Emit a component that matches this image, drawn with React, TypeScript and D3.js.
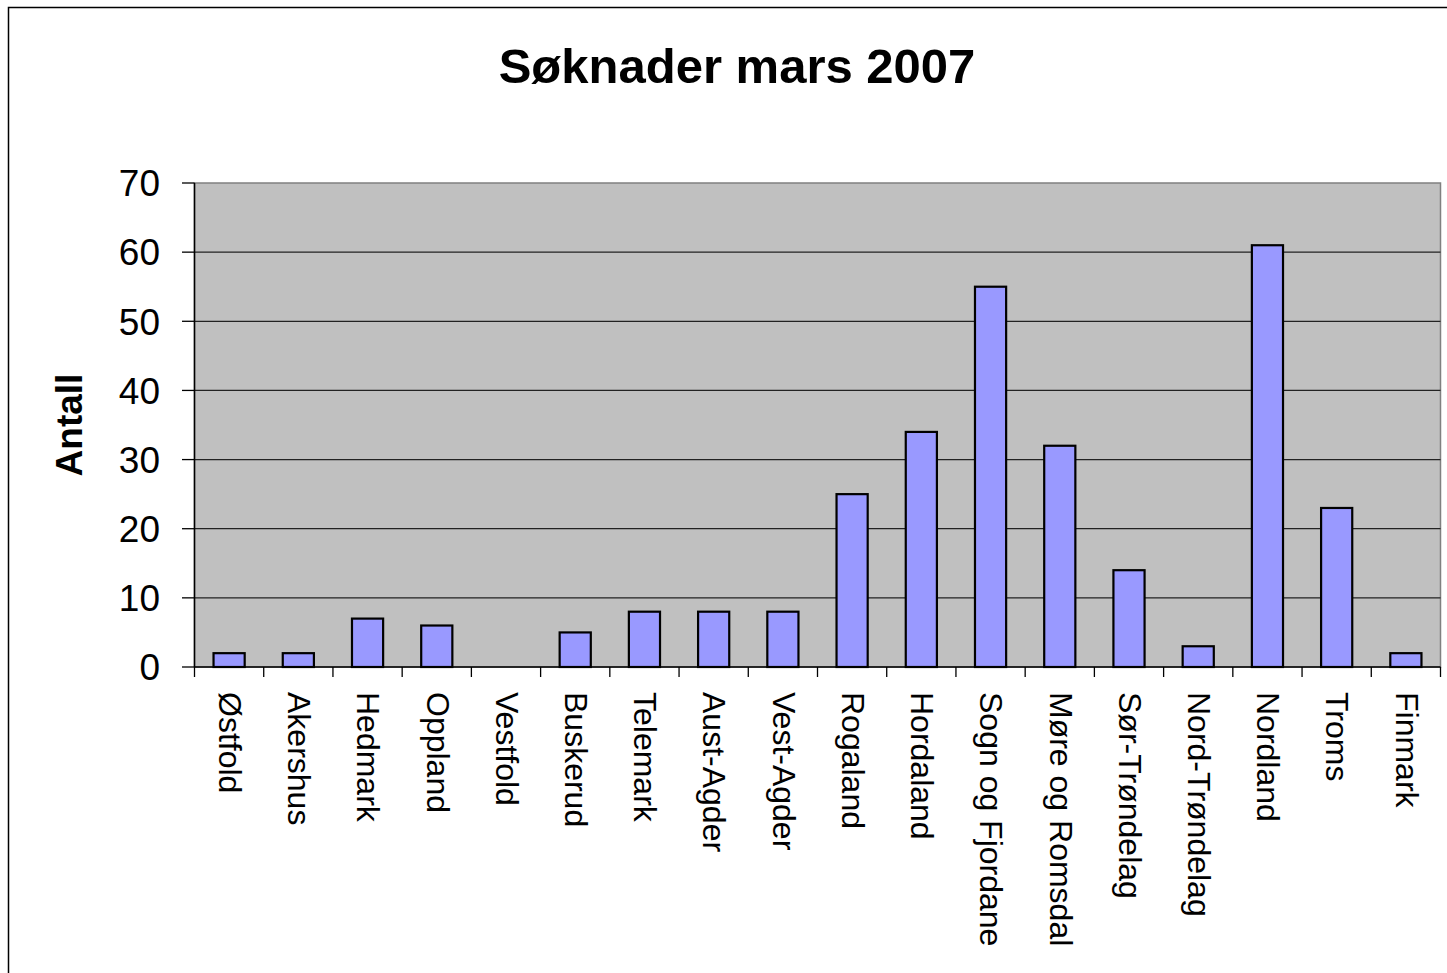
import * as d3 from 'd3';

const categories = [
  'Østfold', 'Akershus', 'Hedmark', 'Oppland', 'Vestfold', 'Buskerud', 'Telemark',
  'Aust-Agder', 'Vest-Agder', 'Rogaland', 'Hordaland', 'Sogn og Fjordane',
  'Møre og Romsdal', 'Sør-Trøndelag', 'Nord-Trøndelag', 'Nordland', 'Troms', 'Finmark',
];
const antall = [2, 2, 7, 6, 0, 5, 8, 8, 8, 25, 34, 55, 32, 14, 3, 61, 23, 2];
const yTicks = [0, 10, 20, 30, 40, 50, 60, 70];

const W = 1447;
const H = 973;
const FONT = 'Arial, "Liberation Sans", sans-serif';

export default function App() {
  const left = 194.5, right = 1440.5, top = 183, bottom = 667;

  const x = d3.scaleBand<string>().domain(categories).range([left, right]).paddingInner(0.55).paddingOuter(0.275);
  const xb = d3.scaleBand<string>().domain(categories).range([left, right]);
  const y = d3.scaleLinear().domain([0, 70]).range([bottom, top]);

  return (
    <svg width={W} height={H} style={{ position: 'absolute', left: 0, top: 0, background: '#fff' }}>
      {/* outer chart border */}
      <rect x={8.5} y={7.5} width={W + 20} height={H + 20} fill="none" stroke="#000" strokeWidth={1.5} />

      <text x={737} y={83} textAnchor="middle" fontFamily={FONT} fontWeight="bold" fontSize={49}>
        Søknader mars 2007
      </text>

      {/* plot area */}
      <rect x={left} y={top} width={right - left} height={bottom - top} fill="#c0c0c0" stroke="#808080" strokeWidth={1.5} />

      {yTicks.filter(t => t > 0 && t < 70).map(t => (
        <line key={t} x1={left} x2={right} y1={y(t)} y2={y(t)} stroke="#222" strokeWidth={1.3} />
      ))}

      {antall.map((v, i) => v > 0 && (
        <rect key={categories[i]} x={x(categories[i])} y={y(v)} width={x.bandwidth()} height={bottom - y(v)}
          fill="#9999ff" stroke="#000" strokeWidth={2.2} />
      ))}

      {/* y axis */}
      <line x1={left} x2={left} y1={top} y2={bottom} stroke="#000" strokeWidth={1.5} />
      {yTicks.map(t => (
        <g key={t}>
          <line x1={182} x2={left} y1={y(t)} y2={y(t)} stroke="#000" strokeWidth={1.3} />
          <text x={160} y={y(t)} dy="0.36em" textAnchor="end" fontFamily={FONT} fontSize={37}>{t}</text>
        </g>
      ))}

      {/* x axis */}
      <line x1={left} x2={right} y1={bottom} y2={bottom} stroke="#000" strokeWidth={1.5} />
      {categories.map(c => (
        <line key={c} x1={xb(c)} x2={xb(c)} y1={bottom} y2={bottom + 10} stroke="#000" strokeWidth={1.3} />
      ))}
      <line x1={right} x2={right} y1={bottom} y2={bottom + 10} stroke="#000" strokeWidth={1.3} />
      {categories.map(c => {
        const cx = (xb(c) ?? 0) + xb.bandwidth() / 2 + 1;
        return (
          <text key={c} transform={`translate(${cx},${692}) rotate(90)`} dy="0.35em"
            fontFamily={FONT} fontSize={32}>{c}</text>
        );
      })}

      <text transform={`translate(69,${(top + bottom) / 2}) rotate(-90)`} textAnchor="middle" dy="0.35em"
        fontFamily={FONT} fontWeight="bold" fontSize={37}>Antall</text>
    </svg>
  );
}
